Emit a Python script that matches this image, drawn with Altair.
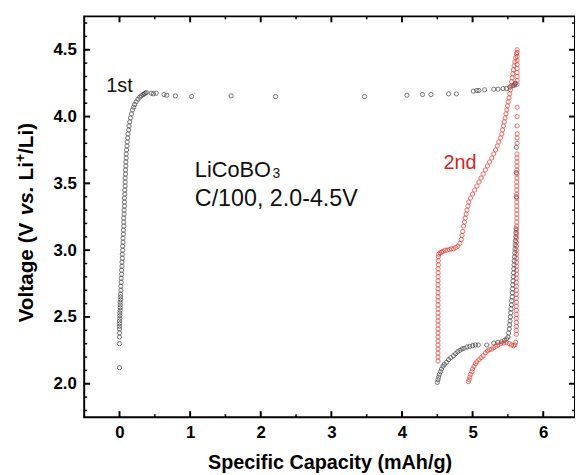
import altair as alt
import pandas as pd

# ---------------- data ----------------
# 1st cycle, initial rise near 0 mAh/g
cap_1st_rise = [0.00, 0.00, 0.00, 0.00, 0.00, 0.00, 0.00, 0.00, 0.005, 0.005, 0.005, 0.01, 0.01, 0.01, 0.01,
                0.015, 0.015, 0.015, 0.02, 0.02, 0.025, 0.025, 0.03, 0.03, 0.035, 0.035, 0.04, 0.04, 0.045, 0.045,
                0.05, 0.05, 0.055, 0.055, 0.06, 0.06, 0.06, 0.065, 0.065, 0.07, 0.07, 0.07, 0.075, 0.075, 0.08,
                0.08, 0.08, 0.085, 0.085, 0.09, 0.09, 0.095, 0.095, 0.10, 0.105, 0.11, 0.115, 0.12, 0.13, 0.135,
                0.145, 0.155, 0.17, 0.185, 0.20, 0.215, 0.235, 0.26, 0.285, 0.31, 0.335, 0.35, 0.365, 0.38]
volt_1st_rise = [2.12, 2.30, 2.35, 2.38, 2.41, 2.43, 2.45, 2.47, 2.49, 2.51, 2.53, 2.55, 2.57, 2.59, 2.61,
                 2.63, 2.65, 2.67, 2.70, 2.73, 2.76, 2.79, 2.82, 2.85, 2.88, 2.91, 2.94, 2.97, 3.00, 3.03,
                 3.06, 3.09, 3.12, 3.15, 3.18, 3.21, 3.24, 3.27, 3.30, 3.33, 3.36, 3.39, 3.42, 3.45, 3.48,
                 3.51, 3.54, 3.57, 3.60, 3.63, 3.66, 3.69, 3.72, 3.75, 3.78, 3.81, 3.84, 3.87, 3.90, 3.93,
                 3.96, 3.99, 4.02, 4.05, 4.07, 4.09, 4.11, 4.13, 4.145, 4.155, 4.165, 4.17, 4.175, 4.18]

# 1st cycle, sparse plateau near 4.15-4.25 V
cap_1st_plateau = [0.45, 0.48, 0.52, 0.63, 0.67, 0.79, 1.02, 1.58, 2.21, 3.47, 4.07, 4.29, 4.41, 4.66, 4.77,
                   5.01, 5.06, 5.09, 5.17, 5.30, 5.36, 5.43, 5.48, 5.53, 5.57, 5.59, 5.60, 5.61]
volt_1st_plateau = [4.175, 4.17, 4.175, 4.165, 4.16, 4.155, 4.15, 4.155, 4.15, 4.15, 4.16, 4.165, 4.165, 4.17, 4.17,
                    4.19, 4.195, 4.195, 4.20, 4.205, 4.205, 4.21, 4.21, 4.22, 4.23, 4.235, 4.245, 4.25]

# 1st cycle, low-voltage branch
cap_1st_low = [4.50, 4.51, 4.52, 4.53, 4.545, 4.56, 4.58, 4.60, 4.63, 4.66, 4.69, 4.73, 4.76, 4.79, 4.82,
               4.85, 4.88, 4.92, 4.96, 5.00, 5.04, 5.08, 5.20, 5.30, 5.36, 5.41, 5.45, 5.48, 5.50,
               5.51, 5.52, 5.525, 5.53, 5.535, 5.54, 5.545, 5.55, 5.555, 5.56, 5.563, 5.566, 5.57, 5.573,
               5.577, 5.58, 5.583, 5.587, 5.59, 5.593, 5.597, 5.60, 5.603, 5.606, 5.61, 5.612, 5.615,
               5.62, 5.62, 5.62]
volt_1st_low = [2.01, 2.03, 2.05, 2.07, 2.09, 2.11, 2.13, 2.145, 2.16, 2.18, 2.195, 2.21, 2.225, 2.24, 2.25,
                2.26, 2.265, 2.275, 2.28, 2.285, 2.29, 2.29, 2.29, 2.305, 2.31, 2.315, 2.325, 2.335, 2.35,
                2.38, 2.41, 2.44, 2.47, 2.50, 2.53, 2.56, 2.59, 2.62, 2.65, 2.68, 2.71, 2.74, 2.77,
                2.80, 2.83, 2.86, 2.89, 2.92, 2.95, 2.98, 3.01, 3.04, 3.07, 3.10, 3.13, 3.16,
                3.77, 3.58, 3.40]

# 2nd cycle, vertical step at 4.51 and ~3.0 V plateau
cap_2nd_step = [4.51, 4.51, 4.51, 4.51, 4.51, 4.51, 4.51, 4.51, 4.51, 4.51, 4.51, 4.51, 4.51, 4.51,
                4.51, 4.51, 4.51, 4.51, 4.51, 4.51, 4.51, 4.512, 4.512, 4.512, 4.515, 4.515, 4.515,
                4.52, 4.54, 4.56, 4.58, 4.61, 4.64, 4.67, 4.70, 4.73, 4.76, 4.79, 4.82, 4.84, 4.85, 4.86]
volt_2nd_step = [2.17, 2.20, 2.23, 2.26, 2.29, 2.32, 2.35, 2.38, 2.41, 2.44, 2.47, 2.50, 2.53, 2.56,
                 2.59, 2.62, 2.65, 2.68, 2.71, 2.74, 2.77, 2.80, 2.83, 2.86, 2.89, 2.92, 2.95,
                 2.97, 2.98, 2.985, 2.99, 3.00, 3.00, 3.005, 3.01, 3.01, 3.02, 3.03, 3.05, 3.08, 3.11, 3.14]

# 2nd cycle, rise to 4.5 V
cap_2nd_rise = [4.872, 4.885, 4.897, 4.909, 4.921, 4.934, 4.946, 4.97, 5.00, 5.03, 5.06, 5.09, 5.12, 5.15,
                5.18, 5.21, 5.24, 5.27, 5.30, 5.325, 5.35, 5.37, 5.395, 5.414, 5.425, 5.437, 5.449, 5.46,
                5.472, 5.484, 5.494, 5.505, 5.516, 5.526, 5.536, 5.544, 5.552, 5.56, 5.569, 5.577, 5.587,
                5.598, 5.609, 5.62, 5.63]
volt_2nd_rise = [3.18, 3.21, 3.24, 3.27, 3.30, 3.33, 3.36, 3.39, 3.42, 3.45, 3.48, 3.51, 3.54, 3.57,
                 3.60, 3.63, 3.66, 3.69, 3.72, 3.75, 3.78, 3.81, 3.84, 3.87, 3.90, 3.93, 3.96, 3.99,
                 4.02, 4.05, 4.08, 4.11, 4.14, 4.17, 4.20, 4.23, 4.26, 4.29, 4.32, 4.35, 4.38,
                 4.41, 4.44, 4.47, 4.50]

# 2nd cycle, drop back from 4.5 V
cap_2nd_drop = [5.63, 5.63, 5.63, 5.63, 5.63, 5.63, 5.63, 5.63, 5.63,
                5.63, 5.63, 5.63, 5.63, 5.63, 5.63, 5.628, 5.628, 5.628, 5.628, 5.628, 5.628, 5.628,
                5.625, 5.625, 5.625, 5.625, 5.625, 5.625, 5.625, 5.625, 5.625, 5.625, 5.625, 5.625,
                5.622, 5.622, 5.622, 5.622, 5.622, 5.622, 5.622, 5.622, 5.622, 5.622, 5.622, 5.622,
                5.62, 5.62, 5.62, 5.62, 5.62, 5.62, 5.62, 5.62, 5.62, 5.62, 5.62, 5.62, 5.62, 5.62, 5.62,
                5.61, 5.60, 5.58, 5.55, 5.52, 5.48, 5.44, 5.40, 5.36, 5.33, 5.30, 5.27, 5.24, 5.21,
                5.18, 5.15, 5.12, 5.09, 5.06, 5.04, 5.02, 5.00, 4.99, 4.97, 4.96, 4.95, 4.94]
volt_2nd_drop = [4.48, 4.45, 4.42, 4.39, 4.36, 4.33, 4.30, 4.27, 4.24,
                 4.07, 4.00, 3.93, 3.87, 3.84, 3.80, 3.72, 3.69, 3.66, 3.63, 3.60, 3.57, 3.54,
                 3.51, 3.48, 3.45, 3.42, 3.39, 3.36, 3.33, 3.30, 3.27, 3.24, 3.21, 3.18,
                 3.15, 3.12, 3.09, 3.06, 3.03, 3.00, 2.97, 2.94, 2.91, 2.88, 2.85, 2.82,
                 2.79, 2.76, 2.73, 2.70, 2.67, 2.64, 2.61, 2.58, 2.55, 2.52, 2.49, 2.46, 2.43, 2.40, 2.37,
                 2.31, 2.29, 2.285, 2.29, 2.30, 2.31, 2.305, 2.30, 2.29, 2.28, 2.27, 2.26, 2.255, 2.245,
                 2.23, 2.21, 2.195, 2.18, 2.165, 2.15, 2.13, 2.11, 2.09, 2.07, 2.05, 2.03, 2.016]

# axis ticks
x_major = [0, 1, 2, 3, 4, 5, 6]
x_minor = [0.5, 1.5, 2.5, 3.5, 4.5, 5.5]
y_major = [2.0, 2.5, 3.0, 3.5, 4.0, 4.5]
y_minor = [1.8, 1.9, 2.1, 2.2, 2.3, 2.4, 2.6, 2.7, 2.8, 2.9, 3.1, 3.2, 3.3, 3.4, 3.6, 3.7, 3.8, 3.9,
           4.1, 4.2, 4.3, 4.4, 4.6, 4.7]

# annotations
ann_cap = [0.0, 4.82]
ann_volt = [4.184, 3.608]
ann_text = ["1st", "2nd"]
ann_color = ["#111111", "#d8231f"]
label1_cap, label1_volt, label1_text = [1.067], [3.549], ["LiCoBO"]
label2_cap, label2_volt, label2_text = [1.067], [3.334], ["C/100, 2.0-4.5V"]
sub_cap, sub_volt, sub_text = [2.165], [3.538], ["3"]

# y-axis title pieces (rich text: italic "vs.", superscript "+")
ytitle_text = ["Voltage (V", "vs.", "Li", "+", "/Li)"]

# ---------------- chart ----------------
FONT = "Liberation Sans"
W, H = 496, 405

def seg(c, v, name):
    return pd.DataFrame({"cap": c, "volt": v, "cycle": name})

pts = pd.concat([
    seg(cap_1st_rise, volt_1st_rise, "1st"),
    seg(cap_1st_plateau, volt_1st_plateau, "1st"),
    seg(cap_1st_low, volt_1st_low, "1st"),
    seg(cap_2nd_step, volt_2nd_step, "2nd"),
    seg(cap_2nd_rise, volt_2nd_rise, "2nd"),
    seg(cap_2nd_drop, volt_2nd_drop, "2nd"),
], ignore_index=True)

xscale = alt.Scale(domain=[-0.5, 6.45], nice=False, zero=False)
yscale = alt.Scale(domain=[1.75, 4.75], nice=False, zero=False)

x_axis = alt.Axis(title="Specific Capacity (mAh/g)", values=x_major, format="d", grid=False,
                  domain=False, ticks=False, labelFont=FONT, labelFontSize=17, labelFontWeight="bold",
                  labelColor="black", labelPadding=8, titleFont=FONT, titleFontSize=20,
                  titleFontWeight="bold", titleColor="black", titlePadding=12)
y_axis = alt.Axis(title=None, values=y_major, format=".1f", grid=False,
                  domain=False, ticks=False, labelFont=FONT, labelFontSize=17, labelFontWeight="bold",
                  labelColor="black", labelPadding=8)

def X():
    return alt.X("cap:Q", scale=xscale, axis=x_axis)

def Y():
    return alt.Y("volt:Q", scale=yscale, axis=y_axis)

points = alt.Chart(pts).mark_point(shape="circle", filled=False, size=18, strokeWidth=1.0).encode(
    x=X(), y=Y(),
    color=alt.Color("cycle:N", scale=alt.Scale(domain=["1st", "2nd"], range=["#3a3a3a", "#e5322c"]),
                    legend=None),
)

ann = alt.Chart(pd.DataFrame({"cap": ann_cap, "volt": ann_volt, "t": ann_text, "c": ann_color})).mark_text(
    font=FONT, fontSize=20, align="center", baseline="alphabetic"
).encode(x=X(), y=Y(), text="t:N", color=alt.Color("c:N", scale=None))

def label(c, v, t, size):
    return alt.Chart(pd.DataFrame({"cap": c, "volt": v, "t": t})).mark_text(
        font=FONT, fontSize=size, align="left", baseline="alphabetic", color="#111111"
    ).encode(x=X(), y=Y(), text="t:N")

lbl1 = label(label1_cap, label1_volt, label1_text, 22)
lbl2 = label(label2_cap, label2_volt, label2_text, 23.5)
sub = label(sub_cap, sub_volt, sub_text, 14)

# y title built from pieces, rotated; laid out along the left side of the plot
TS = 21.0
em = {"Voltage (V": 4.890, "vs.": 1.390, "Li": 0.889, "+": 0.584, "/Li)": 1.500}
sp = 0.278 * TS
sup_size = 14.0
lengths = [em["Voltage (V"] * TS + sp, em["vs."] * TS + sp, em["Li"] * TS,
           em["+"] * sup_size, em["/Li)"] * TS]
total = sum(lengths)
start = H / 2 + total / 2 + 6
anchors = []
pos = start
for L in lengths:
    anchors.append(pos)
    pos -= L

def ypiece(i, italic=False, size=TS, xoff=-52):
    m = alt.Chart(pd.DataFrame({"t": [ytitle_text[i]]})).mark_text(
        font=FONT, fontSize=size, fontWeight="bold", fontStyle="italic" if italic else "normal",
        angle=270, align="left", baseline="alphabetic", color="black"
    ).encode(text="t:N", x=alt.value(xoff), y=alt.value(anchors[i]))
    return m

ytitle = [ypiece(0), ypiece(1, italic=True), ypiece(2), ypiece(3, size=sup_size, xoff=-60), ypiece(4)]

xmaj = pd.DataFrame({"cap": x_major})
xmin = pd.DataFrame({"cap": x_minor})
ymaj = pd.DataFrame({"volt": y_major})
ymin = pd.DataFrame({"volt": y_minor})

def xt(df, y0, y1, w):
    return alt.Chart(df).mark_rule(color="black", strokeWidth=w).encode(
        x=X(), y=alt.value(y0), y2=alt.value(y1))

def yt(df, x0, x1, w):
    return alt.Chart(df).mark_rule(color="black", strokeWidth=w).encode(
        y=Y(), x=alt.value(x0), x2=alt.value(x1))

ticks = [
    xt(xmaj, H, H - 6, 2), xt(xmaj, 0, 6, 2),
    xt(xmin, H, H - 3, 1.5), xt(xmin, 0, 3, 1.5),
    yt(ymaj, 0, 6, 2), yt(ymaj, W, W - 6, 2),
    yt(ymin, 0, 3, 1.5), yt(ymin, W, W - 3, 1.5),
]

chart = alt.layer(points, ann, lbl1, lbl2, sub, *ticks, *ytitle).properties(
    width=W, height=H,
    autosize=alt.AutoSizeParams(type="none"),
    padding={"left": 77, "top": 6, "right": 0, "bottom": 56},
    background="white",
).configure_view(stroke="black", strokeWidth=2)

chart.save("out.html", embed_options={"renderer": "svg", "actions": False})
